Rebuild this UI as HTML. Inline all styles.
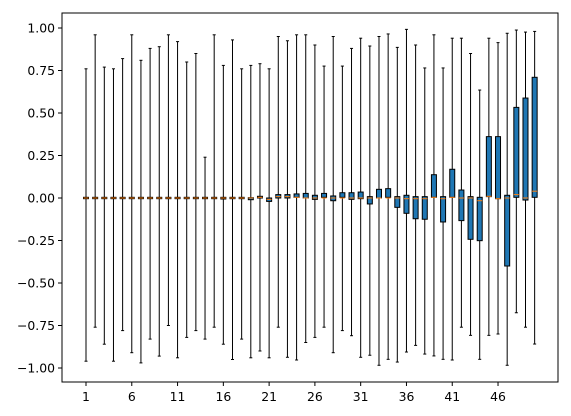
<!DOCTYPE html>
<html><head><meta charset="utf-8"><style>
body{margin:0;background:#fff}svg{display:block;font-family:"DejaVu Sans","Liberation Sans",sans-serif}
</style></head><body>
<svg id="c" width="571" height="416"></svg>
<script>
const positions=[];for(let i=1;i<=50;i++)positions.push(i);
const whiskerHigh=[0.76,0.96,0.77,0.76,0.82,0.96,0.81,0.88,0.89,0.96,0.92,0.80,0.85,0.24,0.96,0.78,0.93,0.76,0.78,0.79,0.76,0.95,0.925,0.96,0.96,0.90,0.776,0.95,0.776,0.88,0.94,0.894,0.95,0.965,0.886,0.992,0.90,0.765,0.96,0.765,0.94,0.94,0.85,0.635,0.94,0.914,0.969,0.988,0.976,0.98];
const whiskerLow=[-0.96,-0.76,-0.86,-0.96,-0.78,-0.91,-0.97,-0.83,-0.93,-0.75,-0.94,-0.82,-0.78,-0.83,-0.76,-0.86,-0.95,-0.83,-0.94,-0.90,-0.94,-0.76,-0.937,-0.953,-0.85,-0.82,-0.76,-0.91,-0.78,-0.81,-0.937,-0.925,-0.984,-0.949,-0.965,-0.906,-0.867,-0.918,-0.929,-0.949,-0.953,-0.76,-0.808,-0.949,-0.808,-0.80,-0.984,-0.675,-0.76,-0.859];
const q1=[-0.004,-0.004,-0.004,-0.004,-0.004,-0.004,-0.004,-0.004,-0.004,-0.004,-0.004,-0.004,-0.004,-0.004,-0.004,-0.006,-0.004,-0.004,-0.01,0,-0.02,0,0,0.004,0,-0.008,0.004,-0.016,0.004,-0.008,-0.004,-0.035,0,0.004,-0.055,-0.09,-0.122,-0.125,0.004,-0.141,0.004,-0.133,-0.243,-0.251,0.008,-0.004,-0.4,0.004,-0.012,0.004];
const q3=[0.004,0.004,0.004,0.004,0.004,0.004,0.004,0.004,0.004,0.004,0.004,0.004,0.004,0.004,0.004,0.004,0.004,0.004,0.002,0.01,0,0.02,0.02,0.024,0.027,0.016,0.027,0.012,0.031,0.031,0.035,0.008,0.051,0.055,0.008,0.016,0.008,0.008,0.137,0.008,0.169,0.047,0.008,0.004,0.361,0.361,0.016,0.533,0.588,0.71];
const medians=[0,0,0,0,0,0,0,0,0,0,0,0,0,0,0,0,0,0,0,0.004,-0.008,0.008,0.008,0.004,0,0,0,0,0,0,0,0,0,0,0,-0.004,-0.004,-0.004,0.004,-0.004,0.004,0,0,-0.016,0.01,-0.004,0,0.02,0,0.04];
const yTicks=[1,0.75,0.5,0.25,0,-0.25,-0.5,-0.75,-1];
const xTicks=[1,6,11,16,21,26,31,36,41,46];
const NS='http://www.w3.org/2000/svg',svg=document.getElementById('c');
const L=62,R=558,T=13,B=382;
const X=v=>86+(v-1)*9.156, Y=v=>198-v*170;
function el(t,a,p){const e=document.createElementNS(NS,t);for(const k in a)e.setAttribute(k,a[k]);(p||svg).appendChild(e);return e;}
for(let i=0;i<positions.length;i++){
  const g=el('g',{});
  
  
  const x=X(positions[i]);
  el('line',{x1:x,x2:x,y1:Y(whiskerHigh[i]),y2:Y(q3[i]),stroke:'#000','stroke-width':1},g);
  el('line',{x1:x,x2:x,y1:Y(q1[i]),y2:Y(whiskerLow[i]),stroke:'#000','stroke-width':1},g);
  el('line',{x1:x-1.5,x2:x+1.5,y1:Y(whiskerHigh[i]),y2:Y(whiskerHigh[i]),stroke:'#000','stroke-width':1},g);
  el('line',{x1:x-1.5,x2:x+1.5,y1:Y(whiskerLow[i]),y2:Y(whiskerLow[i]),stroke:'#000','stroke-width':1},g);
  const top=Y(q3[i]),bot=Y(q1[i]);
  el('rect',{x:x-2.5,y:top,width:5,height:Math.max(bot-top,1),fill:'#1f77b4',stroke:'#000','stroke-width':1},g);
  el('line',{x1:x-2.5,x2:x+2.5,y1:Y(medians[i]),y2:Y(medians[i]),stroke:'#ff7f0e','stroke-width':1},g);
}
el('rect',{x:L,y:T,width:R-L,height:B-T,fill:'none',stroke:'#000','stroke-width':1});
for(const t of yTicks){
  const y=Y(t);
  el('line',{x1:L-4,x2:L,y1:y,y2:y,stroke:'#000'});
  const tx=el('text',{x:L-7,y:y+4.5,'text-anchor':'end','font-size':12.4,fill:'#000'});
  
  
  tx.textContent=(t<0?'\u2212':'')+Math.abs(t).toFixed(2);
}
for(const t of xTicks){
  const x=X(t);
  el('line',{x1:x,x2:x,y1:B,y2:B+4,stroke:'#000'});
  const tx=el('text',{x:x,y:B+19,'text-anchor':'middle','font-size':12.4,fill:'#000'});
  
  
  tx.textContent=t;
}
</script>
</body></html>
